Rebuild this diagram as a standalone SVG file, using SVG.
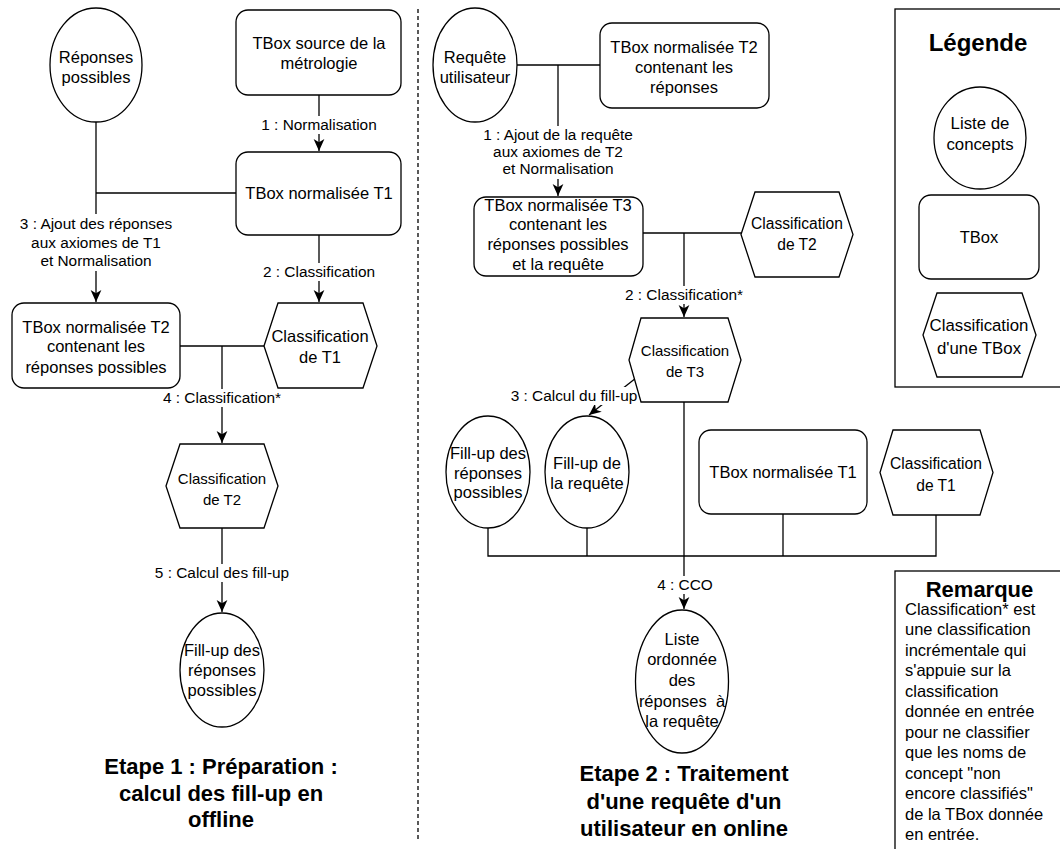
<svg xmlns="http://www.w3.org/2000/svg" width="1060" height="849" viewBox="0 0 1060 849">
  <style>
    text { font-family: "Liberation Sans", Arial, sans-serif; fill: #000; text-anchor: middle; }
    .shape { fill: #fff; stroke: #000; stroke-width: 1.3; }
    .wire { fill: none; stroke: #000; stroke-width: 1.3; }
    .lblbg { fill: #fff; stroke: none; }
    .n { font-size: 16.5px; }
    .s { font-size: 15px; }
    .m { font-size: 15.6px; }
    .lg { font-size: 16.8px; }
    .e { font-size: 15.4px; }
    .t { font-size: 22px; font-weight: bold; }
    .h { font-size: 24px; font-weight: bold; }
    .r { font-size: 22px; font-weight: bold; }
    .b { font-size: 16.5px; text-anchor: start; }
  </style>
  <defs>
    <marker id="arrow" markerUnits="userSpaceOnUse" markerWidth="12" markerHeight="12" viewBox="0 0 10 10" refX="10" refY="5" orient="auto">
      <path d="M0,0.5 L10,5 L0,9.5 L2.8,5 Z" fill="#000"/>
    </marker>
  </defs>

  <rect width="1060" height="849" fill="#fff"/>

  <!-- separator between the two stages -->
  <line x1="418" y1="9" x2="418" y2="840" stroke="#000" stroke-width="1.3" stroke-dasharray="4 3"/>

  <!-- connectors -->
  <g id="connectors">
    <!-- stage 1 -->
    <line class="wire" x1="319" y1="95" x2="319" y2="151" marker-end="url(#arrow)"/>
    <line class="wire" x1="96" y1="122" x2="96" y2="302" marker-end="url(#arrow)"/>
    <line class="wire" x1="96" y1="193" x2="236" y2="193"/>
    <line class="wire" x1="319" y1="235" x2="319" y2="302" marker-end="url(#arrow)"/>
    <line class="wire" x1="180" y1="346" x2="264" y2="346"/>
    <line class="wire" x1="222" y1="346" x2="222" y2="443" marker-end="url(#arrow)"/>
    <line class="wire" x1="222" y1="528" x2="222" y2="612" marker-end="url(#arrow)"/>
    <!-- stage 2 -->
    <line class="wire" x1="517" y1="65" x2="600" y2="65"/>
    <line class="wire" x1="558" y1="65" x2="558" y2="196" marker-end="url(#arrow)"/>
    <line class="wire" x1="643" y1="233" x2="741" y2="233"/>
    <line class="wire" x1="684" y1="233" x2="684" y2="317" marker-end="url(#arrow)"/>
    <line class="wire" x1="636" y1="378" x2="589" y2="415" marker-end="url(#arrow)"/>
    <polyline class="wire" points="488,528 488,556 936,556 936,515"/>
    <line class="wire" x1="587" y1="528" x2="587" y2="556"/>
    <line class="wire" x1="783" y1="514" x2="783" y2="556"/>
    <line class="wire" x1="684" y1="402" x2="684" y2="609" marker-end="url(#arrow)"/>

    <!-- connector labels -->
    <rect class="lblbg" x="259" y="116" width="121" height="18"/>
    <text class="e" x="319" y="130">1 : Normalisation</text>
    <rect class="lblbg" x="19" y="214" width="154" height="57"/>
    <text class="e" x="96" y="229">3 : Ajout des réponses</text>
    <text class="e" x="96" y="248">aux axiomes de T1</text>
    <text class="e" x="96" y="266">et Normalisation</text>
    <rect class="lblbg" x="261" y="263" width="116" height="18"/>
    <text class="e" x="319" y="277">2 : Classification</text>
    <rect class="lblbg" x="161" y="389" width="122" height="18"/>
    <text class="e" x="222" y="403">4 : Classification*</text>
    <rect class="lblbg" x="155" y="564" width="134" height="18"/>
    <text class="e" x="222" y="578">5 : Calcul des fill-up</text>

    <rect class="lblbg" x="481" y="126" width="154" height="53"/>
    <text class="e" x="558" y="140">1 : Ajout de la requête</text>
    <text class="e" x="558" y="157">aux axiomes de T2</text>
    <text class="e" x="558" y="174">et Normalisation</text>
    <rect class="lblbg" x="623" y="286" width="122" height="18"/>
    <text class="e" x="684" y="300">2 : Classification*</text>
    <rect class="lblbg" x="511" y="387" width="126" height="18"/>
    <text class="e" x="574" y="401">3 : Calcul du fill-up</text>
    <rect class="lblbg" x="657" y="576" width="56" height="18"/>
    <text class="e" x="685" y="590">4 : CCO</text>
  </g>

  <!-- stage 1 nodes -->
  <g id="reponses-possibles">
    <ellipse class="shape" cx="96" cy="65" rx="46" ry="57"/>
    <text class="n" x="96" y="63">Réponses</text>
    <text class="n" x="96" y="83">possibles</text>
  </g>
  <g id="tbox-source">
    <rect class="shape" x="236" y="10" width="165" height="85" rx="12"/>
    <text class="n" x="319" y="49">TBox source de la</text>
    <text class="n" x="319" y="69">métrologie</text>
  </g>
  <g id="tbox-t1">
    <rect class="shape" x="236" y="152" width="165" height="83" rx="12"/>
    <text class="n" x="319" y="199">TBox normalisée T1</text>
  </g>
  <g id="tbox-t2">
    <rect class="shape" x="12" y="303" width="168" height="85" rx="12"/>
    <text class="n" x="96" y="333">TBox normalisée T2</text>
    <text class="n" x="96" y="352">contenant les</text>
    <text class="n" x="96" y="373">réponses possibles</text>
  </g>
  <g id="classif-t1">
    <polygon class="shape" points="264,346 278,303 363,303 377,346 363,388 278,388"/>
    <text class="n" x="320" y="342">Classification</text>
    <text class="n" x="320" y="363">de T1</text>
  </g>
  <g id="classif-t2">
    <polygon class="shape" points="166,486 180,444 264,444 278,486 264,528 180,528"/>
    <text class="s" x="222" y="484">Classification</text>
    <text class="s" x="222" y="505">de T2</text>
  </g>
  <g id="fillup-reponses">
    <ellipse class="shape" cx="222" cy="670" rx="42" ry="57"/>
    <text class="n" x="222" y="656">Fill-up des</text>
    <text class="n" x="222" y="676">réponses</text>
    <text class="n" x="222" y="696">possibles</text>
  </g>
  <g id="titre-etape1">
    <text class="t" x="221" y="774">Etape 1 : Préparation :</text>
    <text class="t" x="221" y="801">calcul des fill-up en</text>
    <text class="t" x="221" y="827">offline</text>
  </g>

  <!-- stage 2 nodes -->
  <g id="requete-utilisateur">
    <ellipse class="shape" cx="475" cy="65" rx="42" ry="57"/>
    <text class="n" x="475" y="63">Requête</text>
    <text class="n" x="475" y="83">utilisateur</text>
  </g>
  <g id="tbox-t2-reponses">
    <rect class="shape" x="600" y="23" width="169" height="85" rx="12"/>
    <text class="n" x="684" y="53">TBox normalisée T2</text>
    <text class="n" x="684" y="73">contenant les</text>
    <text class="n" x="684" y="93">réponses</text>
  </g>
  <g id="tbox-t3">
    <rect class="shape" x="474" y="197" width="169" height="79" rx="12"/>
    <text class="n" x="558" y="211">TBox normalisée T3</text>
    <text class="n" x="558" y="230">contenant les</text>
    <text class="n" x="558" y="250">réponses possibles</text>
    <text class="n" x="558" y="270">et la requête</text>
  </g>
  <g id="classif-t2-online">
    <polygon class="shape" points="741,234.5 755,192 839,192 853,234.5 839,277 755,277"/>
    <text class="m" x="797" y="229">Classification</text>
    <text class="m" x="797" y="250">de T2</text>
  </g>
  <g id="classif-t3">
    <polygon class="shape" points="629,360 641,318 728,318 741,360 728,402 641,402"/>
    <text class="s" x="685" y="356">Classification</text>
    <text class="s" x="685" y="377">de T3</text>
  </g>
  <g id="fillup-reponses-online">
    <ellipse class="shape" cx="488" cy="472" rx="42" ry="56"/>
    <text class="n" x="488" y="459">Fill-up des</text>
    <text class="n" x="488" y="479">réponses</text>
    <text class="n" x="488" y="498">possibles</text>
  </g>
  <g id="fillup-requete">
    <ellipse class="shape" cx="587" cy="472" rx="42" ry="56"/>
    <text class="n" x="587" y="469">Fill-up de</text>
    <text class="n" x="587" y="489">la requête</text>
  </g>
  <g id="tbox-t1-online">
    <rect class="shape" x="699" y="430" width="168" height="84" rx="12"/>
    <text class="n" x="783" y="478">TBox normalisée T1</text>
  </g>
  <g id="classif-t1-online">
    <polygon class="shape" points="880,472.5 893,430 980,430 993,472.5 980,515 893,515"/>
    <text class="m" x="936" y="469">Classification</text>
    <text class="m" x="936" y="491">de T1</text>
  </g>
  <g id="liste-ordonnee">
    <ellipse class="shape" cx="682" cy="681.5" rx="46.5" ry="71.5"/>
    <text class="n" x="682" y="645">Liste</text>
    <text class="n" x="682" y="665">ordonnée</text>
    <text class="n" x="682" y="686">des</text>
    <text class="n" x="682" y="707" xml:space="preserve">réponses  à</text>
    <text class="n" x="682" y="727">la requête</text>
  </g>
  <g id="titre-etape2">
    <text class="t" x="684" y="781">Etape 2 : Traitement</text>
    <text class="t" x="684" y="809">d'une requête d'un</text>
    <text class="t" x="684" y="836">utilisateur en online</text>
  </g>

  <!-- legend -->
  <g id="legende">
    <rect x="895" y="9" width="200" height="378" fill="#fff" stroke="#000" stroke-width="1.3"/>
    <text class="h" x="978" y="51">Légende</text>
    <ellipse class="shape" cx="980" cy="138" rx="46" ry="51"/>
    <text class="lg" x="980" y="129">Liste de</text>
    <text class="lg" x="980" y="150">concepts</text>
    <rect class="shape" x="919" y="195" width="120" height="84" rx="12"/>
    <text class="n" x="979" y="243">TBox</text>
    <polygon class="shape" points="923,335 937,293 1022,293 1036,335 1022,377 937,377"/>
    <text class="lg" x="979" y="331">Classification</text>
    <text class="lg" x="979" y="354">d'une TBox</text>
  </g>

  <!-- note -->
  <g id="remarque">
    <rect x="895" y="571" width="200" height="300" fill="#fff" stroke="#000" stroke-width="1.3"/>
    <text class="r" x="979.5" y="597">Remarque</text>
    <text class="b" x="905" y="615">Classification* est</text>
    <text class="b" x="905" y="635">une classification</text>
    <text class="b" x="905" y="655.5">incrémentale qui</text>
    <text class="b" x="905" y="676">s'appuie sur la</text>
    <text class="b" x="905" y="696.5">classification</text>
    <text class="b" x="905" y="717">donnée en entrée</text>
    <text class="b" x="905" y="737.5">pour ne classifier</text>
    <text class="b" x="905" y="758">que les noms de</text>
    <text class="b" x="905" y="778.5">concept "non</text>
    <text class="b" x="905" y="799">encore classifiés"</text>
    <text class="b" x="905" y="819.5">de la TBox donnée</text>
    <text class="b" x="905" y="840">en entrée.</text>
  </g>
</svg>
